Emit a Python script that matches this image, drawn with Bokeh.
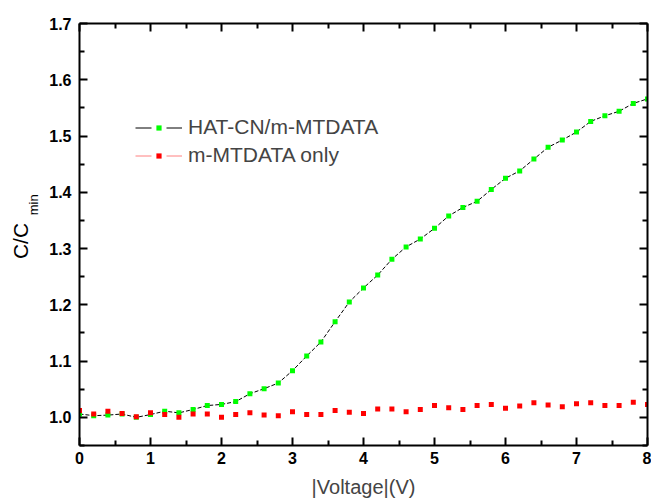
import math
from bokeh.plotting import figure
from bokeh.models import (LinearAxis, Range1d, Legend, LegendItem, Label, FixedTicker,
                          CustomJSTickFormatter, PrintfTickFormatter, ColumnDataSource)
from bokeh.embed import file_html
from bokeh.resources import INLINE

voltage = [0.0, 0.2, 0.4, 0.6, 0.8, 1.0, 1.2, 1.4, 1.6, 1.8,
           2.0, 2.2, 2.4, 2.6, 2.8, 3.0, 3.2, 3.4, 3.6, 3.8,
           4.0, 4.2, 4.4, 4.6, 4.8, 5.0, 5.2, 5.4, 5.6, 5.8,
           6.0, 6.2, 6.4, 6.6, 6.8, 7.0, 7.2, 7.4, 7.6, 7.8, 8.0]

hatcn = [1.006, 1.003, 1.004, 1.006, 1.000, 1.005, 1.011, 1.008, 1.014, 1.021,
         1.023, 1.028, 1.042, 1.051, 1.061, 1.083, 1.109, 1.134, 1.170, 1.205,
         1.230, 1.253, 1.281, 1.303, 1.317, 1.336, 1.358, 1.373, 1.384, 1.405,
         1.425, 1.438, 1.459, 1.480, 1.493, 1.507, 1.526, 1.536, 1.544, 1.558, 1.566]

mtdata = [1.012, 1.006, 1.011, 1.007, 1.001, 1.008, 1.005, 1.000, 1.006, 1.006,
          1.000, 1.005, 1.008, 1.004, 1.003, 1.010, 1.005, 1.005, 1.012, 1.009,
          1.007, 1.015, 1.015, 1.010, 1.014, 1.021, 1.017, 1.014, 1.021, 1.023,
          1.016, 1.020, 1.026, 1.022, 1.019, 1.024, 1.026, 1.021, 1.021, 1.027, 1.023]

x_ticks = [0, 1, 2, 3, 4, 5, 6, 7, 8]
x_minor = [0.5, 1.5, 2.5, 3.5, 4.5, 5.5, 6.5, 7.5]
y_ticks = [1.0, 1.1, 1.2, 1.3, 1.4, 1.5, 1.6, 1.7]
y_minor = [0.95, 1.05, 1.15, 1.25, 1.35, 1.45, 1.55, 1.65]

series_names = ["HAT-CN/m-MTDATA", "m-MTDATA only"]
x_label = "|Voltage|(V)"
y_label_main = "C/C"
y_label_sub = "min"

FONT = "Liberation Sans"

p = figure(frame_width=568, frame_height=422, output_backend="svg", toolbar_location=None,
           x_range=Range1d(0, 8), y_range=Range1d(0.95, 1.7),
           min_border_left=79, min_border_top=23, min_border_right=4, min_border_bottom=40,
           x_axis_type=None, y_axis_type=None)
p.outline_line_color = None
p.grid.visible = False
p.background_fill_color = "white"
p.border_fill_color = "white"

xt = FixedTicker(ticks=x_ticks, minor_ticks=x_minor)
yt = FixedTicker(ticks=y_ticks, minor_ticks=y_minor)

def style(ax, labels=True):
    ax.axis_line_width = 2
    ax.axis_line_color = "black"
    ax.major_tick_in = 8
    ax.major_tick_out = 0
    ax.minor_tick_in = 5
    ax.minor_tick_out = 0
    ax.major_tick_line_width = 2
    ax.minor_tick_line_width = 2
    ax.major_tick_line_color = "black"
    ax.minor_tick_line_color = "black"
    if labels:
        ax.major_label_text_font = FONT
        ax.major_label_text_font_style = "bold"
        ax.major_label_text_font_size = "16px"
        ax.major_label_text_color = "black"
    else:
        ax.major_label_text_font_size = "1px"
        ax.major_label_standoff = 0

xb = LinearAxis(ticker=xt)
style(xb)
xb.major_label_standoff = 6
xb.axis_label = x_label
xb.axis_label_text_font = FONT
xb.axis_label_text_font_style = "normal"
xb.axis_label_text_font_size = "20px"
xb.axis_label_standoff = 9
p.add_layout(xb, "below")

yl = LinearAxis(ticker=yt, formatter=PrintfTickFormatter(format="%.1f"))
style(yl)
yl.major_label_standoff = 8
p.add_layout(yl, "left")

xa = LinearAxis(ticker=xt, formatter=CustomJSTickFormatter(code="return ''"))
style(xa, labels=False)
p.add_layout(xa, "above")
yr = LinearAxis(ticker=yt, formatter=CustomJSTickFormatter(code="return ''"))
style(yr, labels=False)
p.add_layout(yr, "right")

src = ColumnDataSource(dict(v=voltage, g=hatcn, r=mtdata))

p.line("v", "g", source=src, line_color="black", line_width=1, line_dash="4 2")
g_sc = p.scatter("v", "g", source=src, marker="square", size=5, fill_color="#00FF00", line_color=None)
r_sc = p.scatter("v", "r", source=src, marker="square", size=5, fill_color="#FF0000", line_color=None)

# legend-only line samples (no visible data), with a gap around the marker
nan_src = ColumnDataSource(dict(v=[float("nan")], y=[float("nan")]))
lg_black = p.line("v", "y", source=nan_src, line_color="black", line_width=1, line_dash="16 15")
lg_red = p.line("v", "y", source=nan_src, line_color="#FF8080", line_width=1, line_dash="16 15")

legend = Legend(items=[LegendItem(label=series_names[0], renderers=[lg_black, g_sc]),
                       LegendItem(label=series_names[1], renderers=[lg_red, r_sc])],
                location=(56, 278), padding=0, margin=0, spacing=4,
                glyph_width=47, glyph_height=13, label_height=20, label_standoff=6,
                label_text_font=FONT, label_text_font_size="21px",
                border_line_color=None, background_fill_alpha=0)
p.add_layout(legend)

p.add_layout(Label(x=-0.83, y=1.3134, text=y_label_main, angle=math.pi/2,
                   text_align="center", text_baseline="middle",
                   text_font=FONT, text_font_size="21px", text_color="black"), "left")
p.add_layout(Label(x=-0.648, y=1.3777, text=y_label_sub, angle=math.pi/2,
                   text_align="center", text_baseline="middle",
                   text_font=FONT, text_font_size="13px", text_color="black"), "left")

open("out.html", "w").write(file_html(p, INLINE))
